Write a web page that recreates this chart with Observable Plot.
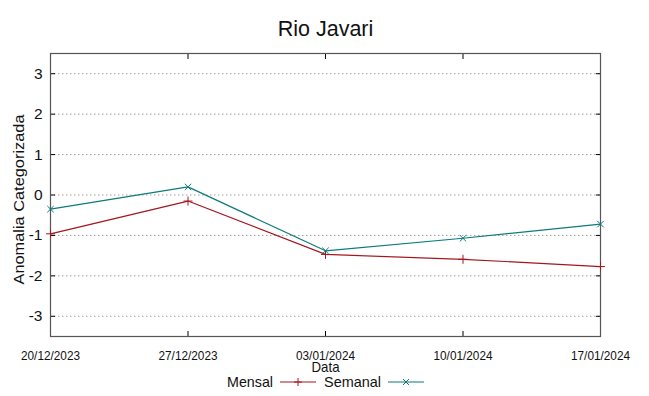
<!DOCTYPE html>
<html><head><meta charset="utf-8">
<script src="https://cdn.jsdelivr.net/npm/d3@7"></script>
<script src="https://cdn.jsdelivr.net/npm/@observablehq/plot@0.6"></script>
<style>body{margin:0;background:#fff}</style>
</head><body><div id="chart"></div>
<script>
const title = "Rio Javari";
const dates = ["2023-12-20","2023-12-27","2024-01-03","2024-01-10","2024-01-17"];
const mensal = [-0.96,-0.15,-1.47,-1.59,-1.77];
const semanal = [-0.35,0.2,-1.38,-1.07,-0.72];
const yTicks = [-3,-2,-1,0,1,2,3];
const seriesNames = ["Mensal","Semanal"];
const yLabel = "Anomalia Categorizada";
const xLabel = "Data";
const colors = ["#a5161e","#0b7b7b"];

const parse = d3.utcParse("%Y-%m-%d");
const xDates = dates.map(parse);
const dataM = xDates.map((d,i)=>({date:d, v:mensal[i]}));
const dataS = xDates.map((d,i)=>({date:d, v:semanal[i]}));
const fmt = d3.utcFormat("%d/%m/%Y");

const plot = Plot.plot({
  width:649, height:396,
  marginLeft:50, marginRight:49, marginTop:53, marginBottom:60,
  style:{fontFamily:"'Liberation Sans', Arial, sans-serif", background:"#fff"},
  x:{type:"utc", domain:[xDates[0], xDates[xDates.length-1]]},
  y:{domain:[-3.5,3.5]},
  marks:[
    Plot.gridY(yTicks,{stroke:"#a0a0a0", strokeOpacity:1, strokeDasharray:"1.5,2.5"}),
    Plot.axisY(yTicks,{anchor:"left", tickSize:0, tickPadding:8, fontSize:15.5, tickFormat:d=>String(d), label:null, fill:"#111"}),
    Plot.axisY(yTicks,{anchor:"left", tickSize:-5, tickFormat:()=>"", label:null, stroke:"#000"}),
    Plot.axisY(yTicks,{anchor:"right", tickSize:-5, tickFormat:()=>"", label:null, stroke:"#000"}),
    Plot.axisX(xDates,{anchor:"bottom", tickSize:0, tickPadding:14, fontSize:13.5, tickFormat:fmt, label:null, fill:"#111"}),
    Plot.axisX(xDates,{anchor:"bottom", tickSize:-5, tickFormat:()=>"", label:null, stroke:"#000"}),
    Plot.axisX(xDates,{anchor:"top", tickSize:-5, tickFormat:()=>"", label:null, stroke:"#000"}),
    Plot.frame({stroke:"#555", strokeWidth:1.2}),
    Plot.line(dataM,{x:"date", y:"v", stroke:colors[0], strokeWidth:1.2}),
    Plot.dot(dataM,{x:"date", y:"v", symbol:"plus", stroke:colors[0], r:3, strokeWidth:1}),
    Plot.line(dataS,{x:"date", y:"v", stroke:colors[1], strokeWidth:1.2}),
    Plot.dot(dataS,{x:"date", y:"v", symbol:"times", stroke:colors[1], r:3, strokeWidth:1}),
    Plot.text([title],{frameAnchor:"top", dy:-33, fontSize:21.5, fill:"#111"}),
    Plot.text([yLabel],{frameAnchor:"left", textAnchor:"middle", rotate:-90, dx:-31, dy:4.5, fontSize:15, fill:"#111"}),
    Plot.text([xLabel],{frameAnchor:"bottom", dy:35, fontSize:15, fill:"#111"})
  ]
});
document.getElementById("chart").appendChild(plot);

const svg = d3.select(plot);
// condensed glyphs like the reference renderer
svg.selectAll("text").filter(function(){ return dates.map(parse).map(fmt).includes(this.textContent); })
  .attr("textLength", 59).attr("lengthAdjust","spacingAndGlyphs");
svg.selectAll("text").filter(function(){ return this.textContent === yLabel; })
  .attr("textLength", 170).attr("lengthAdjust","spacingAndGlyphs");
svg.selectAll("text").filter(function(){ return this.textContent === xLabel; })
  .attr("textLength", 28).attr("lengthAdjust","spacingAndGlyphs");

// legend
const lg = svg.append("g").attr("font-size",15).attr("fill","#111").attr("font-family","'Liberation Sans', Arial, sans-serif");
const items = [
  {name:seriesNames[0], color:colors[0], textEnd:273, len:46, x1:280, x2:316, sym:"plus"},
  {name:seriesNames[1], color:colors[1], textEnd:381, len:57, x1:388, x2:424, sym:"times"}
];
const ly = 382;
items.forEach(it=>{
  lg.append("text").attr("x",it.textEnd).attr("y",ly).attr("dy","0.35em").attr("text-anchor","end")
    .attr("textLength",it.len).attr("lengthAdjust","spacingAndGlyphs").text(it.name);
  lg.append("line").attr("x1",it.x1).attr("x2",it.x2).attr("y1",ly).attr("y2",ly).attr("stroke",it.color).attr("stroke-width",1.2);
  const cx=(it.x1+it.x2)/2;
  const p = it.sym==="plus" ? `M${cx-4},${ly}h8M${cx},${ly-4}v8` : `M${cx-3},${ly-3}l6,6M${cx-3},${ly+3}l6,-6`;
  lg.append("path").attr("d",p).attr("stroke",it.color).attr("fill","none");
});
</script></body></html>
